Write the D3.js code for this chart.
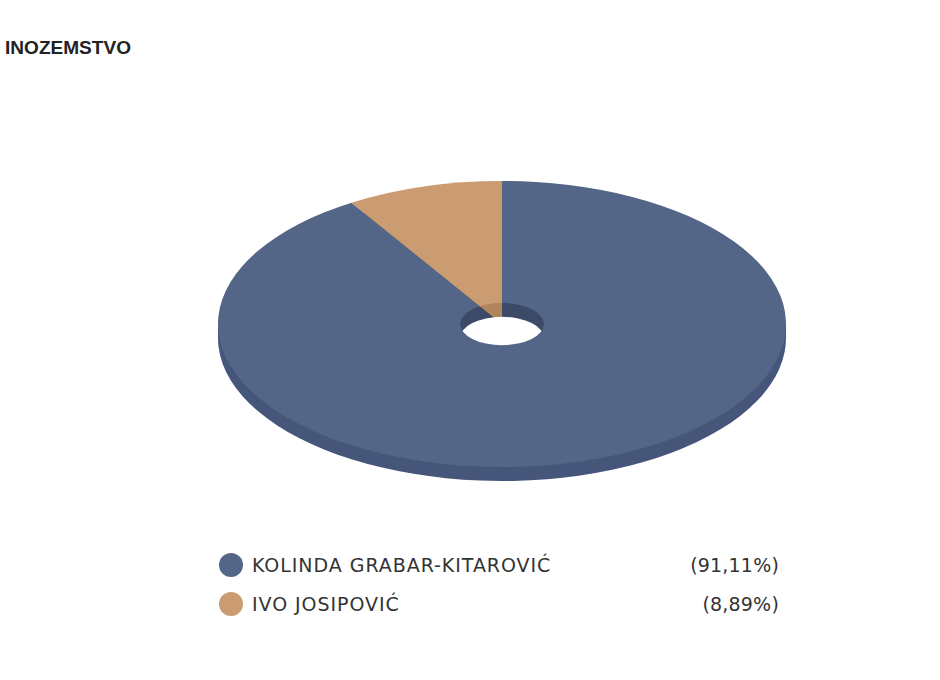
<!DOCTYPE html>
<html>
<head>
<meta charset="utf-8">
<script src="https://cdn.jsdelivr.net/npm/d3@7/dist/d3.min.js"></script>
<style>
html,body{margin:0;padding:0;background:#fff}
svg{display:block}
</style>
</head>
<body>
<svg id="c" width="940" height="680"></svg>
<script>
const title = "INOZEMSTVO";
const categories = ["KOLINDA GRABAR-KITAROVIĆ", "IVO JOSIPOVIĆ"];
const values = [91.11, 8.89];
const valueLabels = ["(91,11%)", "(8,89%)"];
const colors = ["#546688", "#cb9b72"];
const sideColors = ["#46567a", "#a8835d"];
const wallColors = ["#3c4a68", "#b0855b"];

const cx = 502, cy = 324, rx = 284, tilt = 143 / 284, depth = 14, hole = 42;
const svg = d3.select("#c");

svg.append("text").attr("x", 5).attr("y", 54)
  .attr("font-family", "Liberation Sans").attr("font-weight", "bold")
  .attr("font-size", 18).attr("textLength", 126).attr("lengthAdjust", "spacingAndGlyphs")
  .attr("fill", "#222").text(title);

const pie = d3.pie().sort(null);
const slices = pie(values);
const arcFull = d3.arc().innerRadius(0).outerRadius(rx);
const arcHole = d3.arc().innerRadius(0).outerRadius(hole);
const squash = (dy) => `translate(${cx},${cy + dy}) scale(1,${tilt})`;

const defs = svg.append("defs");
defs.append("clipPath").attr("id", "holeClip")
  .append("ellipse").attr("cx", cx).attr("cy", cy).attr("rx", hole).attr("ry", hole * tilt);

// extruded lower layer and the band joining it to the top face
svg.append("g").attr("transform", squash(depth))
  .selectAll("path").data(slices).join("path")
  .attr("d", arcFull).attr("fill", (d, i) => sideColors[i]);
svg.append("rect").attr("x", cx - rx).attr("y", cy).attr("width", rx * 2).attr("height", depth)
  .attr("fill", sideColors[0]);

// top face
svg.append("g").attr("transform", squash(0))
  .selectAll("path").data(slices).join("path")
  .attr("d", arcFull).attr("fill", (d, i) => colors[i]);

// hole: inner wall, then the see-through part
const holeG = svg.append("g").attr("clip-path", "url(#holeClip)");
holeG.append("g").attr("transform", squash(0))
  .selectAll("path").data(slices).join("path")
  .attr("d", arcHole).attr("fill", (d, i) => wallColors[i]);
holeG.append("ellipse").attr("cx", cx).attr("cy", cy + depth)
  .attr("rx", hole).attr("ry", hole * tilt).attr("fill", "#fff");

// legend
const rowY = d3.scalePoint().domain(categories).range([565, 604]);
const legend = svg.append("g").selectAll("g").data(categories).join("g")
  .attr("transform", d => `translate(0,${rowY(d)})`);
legend.append("circle").attr("cx", 231).attr("r", 12).attr("fill", (d, i) => colors[i]);
legend.append("text").attr("x", 252).attr("dy", "0.36em")
  .attr("font-family", "DejaVu Sans").attr("font-size", 19).attr("letter-spacing", 0.95)
  .attr("fill", "#333").text(d => d);
legend.append("text").attr("x", 779).attr("dy", "0.36em").attr("text-anchor", "end")
  .attr("font-family", "DejaVu Sans").attr("font-size", 19).attr("letter-spacing", 0.2)
  .attr("fill", "#333").text((d, i) => valueLabels[i]);
</script>
</body>
</html>
